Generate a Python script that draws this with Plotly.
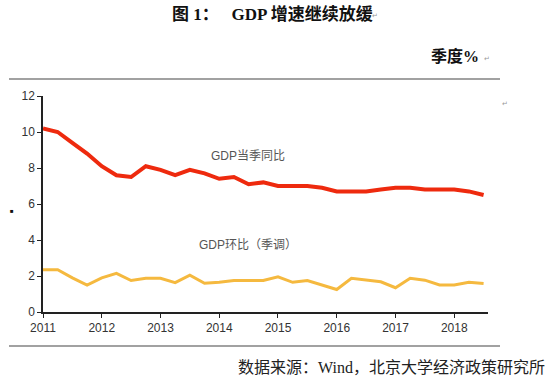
import plotly.graph_objects as go

# ---- data ----
quarters = [f"{y}Q{q}" for y in range(2011, 2019) for q in range(1, 5)][:31]
gdp_yoy = [10.2, 10.0, 9.4, 8.8,
           8.1, 7.6, 7.5, 8.1,
           7.9, 7.6, 7.9, 7.7,
           7.4, 7.5, 7.1, 7.2,
           7.0, 7.0, 7.0, 6.9,
           6.7, 6.7, 6.7, 6.8,
           6.9, 6.9, 6.8, 6.8,
           6.8, 6.7, 6.5]
gdp_qoq = [2.35, 2.35, 1.9, 1.5,
           1.9, 2.15, 1.75, 1.87,
           1.87, 1.63, 2.05, 1.6,
           1.65, 1.75, 1.75, 1.75,
           1.95, 1.65, 1.75, 1.5,
           1.25, 1.87, 1.78, 1.68,
           1.35, 1.87, 1.77, 1.5,
           1.5, 1.65, 1.58]
year_ticks = [f"{y}Q1" for y in range(2011, 2019)]
year_labels = [str(y) for y in range(2011, 2019)]

# plot area in pixels
L, R, T, B = 43, 488, 96, 312
W, H = 550, 387
pw, ph = R - L, B - T
def px(x): return (x - L) / pw
def py(y): return (B - y) / ph

fig = go.Figure()
fig.add_trace(go.Scatter(x=quarters, y=gdp_yoy, mode="lines",
                         line=dict(color="#EE2A0E", width=4), showlegend=False))
fig.add_trace(go.Scatter(x=quarters, y=gdp_qoq, mode="lines",
                         line=dict(color="#F5B93F", width=3), showlegend=False))

serif = "Liberation Serif, Times New Roman, Noto Sans CJK SC"
sans = "Liberation Sans, Arial, Noto Sans CJK SC"

fig.update_layout(
    width=W, height=H,
    margin=dict(l=L, r=W - R, t=T, b=H - B),
    plot_bgcolor="white", paper_bgcolor="white",
    xaxis=dict(type="category", range=[0, 30.3],
               tickmode="array", tickvals=year_ticks, ticktext=year_labels,
               showgrid=False, zeroline=False, automargin=False,
               showline=True, linecolor="#222", linewidth=2,
               ticks="outside", ticklen=4, tickcolor="#222",
               tickfont=dict(family=sans, size=12, color="#333")),
    yaxis=dict(range=[0, 12], dtick=2, showgrid=False, zeroline=False,
               automargin=False,
               showline=True, linecolor="#222", linewidth=1.5,
               ticks="outside", ticklen=4, tickcolor="#222",
               tickfont=dict(family=sans, size=12, color="#333")),
    shapes=[
        dict(type="line", xref="paper", yref="paper",
             x0=px(9), x1=px(500), y0=py(79), y1=py(79),
             line=dict(color="#444", width=1.2)),
        dict(type="line", xref="paper", yref="paper",
             x0=px(9), x1=px(500), y0=py(346), y1=py(346),
             line=dict(color="#444", width=1.2)),
    ],
    annotations=[
        dict(text="<b>图 1：   GDP 增速继续放缓</b>", xref="paper", yref="paper",
             x=px(272), y=py(14), xanchor="center", yanchor="middle",
             showarrow=False, font=dict(family=serif, size=17, color="#111")),
        dict(text="<b>季度%</b>", xref="paper", yref="paper",
             x=px(481), y=py(56), xanchor="right", yanchor="middle",
             showarrow=False, font=dict(family=serif, size=16, color="#111")),
        dict(text="GDP当季同比", xref="paper", yref="paper",
             x=px(248), y=py(156), xanchor="center", yanchor="middle",
             showarrow=False, font=dict(family=sans, size=12, color="#555")),
        dict(text="GDP环比（季调）", xref="paper", yref="paper",
             x=px(248), y=py(245), xanchor="center", yanchor="middle",
             showarrow=False, font=dict(family=sans, size=12, color="#555")),
        dict(text="数据来源：Wind，北京大学经济政策研究所", xref="paper", yref="paper",
             x=px(547), y=py(367), xanchor="right", yanchor="middle",
             showarrow=False, font=dict(family=serif, size=16, color="#222")),
        dict(text="■", xref="paper", yref="paper",
             x=px(12), y=py(211), xanchor="center", yanchor="middle",
             showarrow=False, font=dict(family=sans, size=6, color="#111")),
        dict(text="↵", xref="paper", yref="paper",
             x=px(505), y=py(103), xanchor="center", yanchor="middle",
             showarrow=False, font=dict(family=sans, size=7, color="#999")),
        dict(text="↵", xref="paper", yref="paper",
             x=px(487), y=py(58), xanchor="center", yanchor="middle",
             showarrow=False, font=dict(family=sans, size=7, color="#999")),
        dict(text="↵", xref="paper", yref="paper",
             x=px(375), y=py(16), xanchor="center", yanchor="middle",
             showarrow=False, font=dict(family=sans, size=7, color="#999")),
    ],
)

fig.write_html("out.html", config={"displayModeBar": False},
               post_script="document.body.style.margin='0px';document.body.style.overflow='hidden';")
